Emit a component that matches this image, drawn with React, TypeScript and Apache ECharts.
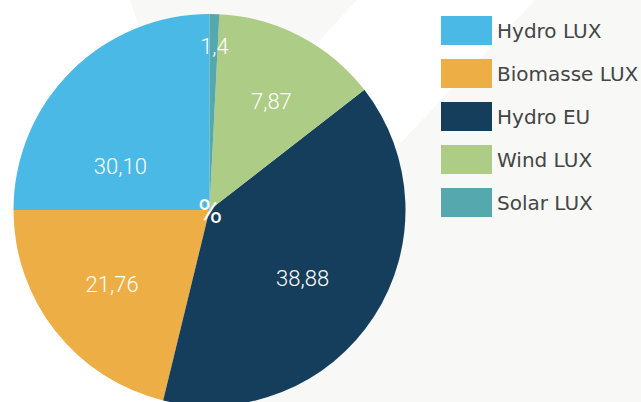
import React, { useEffect, useRef } from "react";
import * as echarts from "echarts";

const categories = ["Hydro LUX", "Biomasse LUX", "Hydro EU", "Wind LUX", "Solar LUX"];
// slice shares as drawn (angle measured on the picture)
const shares = [25.0, 21.2, 39.3, 13.7, 0.8];
// label texts as printed in the picture
const labelTexts = ["30,10", "21,76", "38,88", "7,87", "1,4"];
const colors = ["#4ab9e6", "#edae45", "#153e5c", "#adcc86", "#55a9ae"];

// style: label nudges (px) from ECharts' default inside position
const labelShift: [number, number][] = [
  [-17.7, 28.3],
  [-18, 12.4],
  [8.3, 13.6],
  [15.2, -19.1],
  [2.4, -62.5],
];

export default function App() {
  const ref = useRef<HTMLDivElement>(null);
  useEffect(() => {
    if (!ref.current) return;
    const chart = echarts.init(ref.current, undefined, { renderer: "svg" });
    chart.setOption({
      animation: false,
      backgroundColor: "#ffffff",
      graphic: [
        {
          type: "polygon",
          z: -10,
          silent: true,
          shape: { points: [[130, 0], [357, 0], [210, 160], [140, 30]] },
          style: { fill: "#f8f9f7" },
        },
        {
          type: "polygon",
          z: -10,
          silent: true,
          shape: { points: [[535, 0], [641, 0], [641, 402], [190, 402], [300, 250]] },
          style: { fill: "#f8f9f7" },
        },
        {
          type: "text",
          z: 100,
          silent: true,
          x: 210,
          y: 211,
          style: {
            text: "%",
            fill: "#ffffff",
            fontSize: 33,
            fontFamily: "Roboto",
            fontWeight: 400,
            align: "center",
            verticalAlign: "middle",
          },
        },
      ],
      legend: {
        orient: "vertical",
        left: 441,
        top: 16,
        padding: 0,
        itemWidth: 51,
        itemHeight: 29,
        itemGap: 14,
        icon: "rect",
        selectedMode: false,
        textStyle: { fontSize: 20, color: "#454545", fontFamily: "DejaVu Sans" },
        data: categories,
      },
      series: [
        {
          type: "pie",
          center: [209.5, 210],
          radius: [0, 196],
          startAngle: 90,
          clockwise: false,
          avoidLabelOverlap: false,
          itemStyle: { borderWidth: 0 },
          label: {
            show: true,
            position: "inside",
            color: "#ffffff",
            fontSize: 22,
            fontWeight: 300,
            fontFamily: "Roboto",
            formatter: (p: any) => labelTexts[p.dataIndex],
          },
          labelLine: { show: false },
          labelLayout: (p: any) => ({ dx: labelShift[p.dataIndex][0], dy: labelShift[p.dataIndex][1] }),
          emphasis: { disabled: true },
          data: categories.map((name, i) => ({
            name,
            value: shares[i],
            itemStyle: { color: colors[i] },
          })),
        },
      ],
    });
    return () => chart.dispose();
  }, []);
  return (
    <div
      ref={ref}
      style={{ position: "fixed", left: 0, top: 0, width: 641, height: 402 }}
    />
  );
}
